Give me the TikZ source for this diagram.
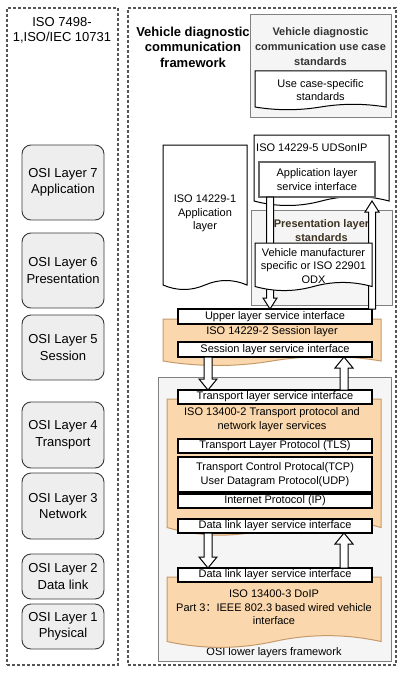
\documentclass[tikz,border=0pt]{standalone}
\usepackage{fontspec}
\setmainfont{Liberation Sans}
\newfontfamily\cjk{Noto Sans CJK SC}
\usetikzlibrary{calc,fit}
\definecolor{orfill}{HTML}{FAD7AC}
\definecolor{orline}{HTML}{C79A6A}
\definecolor{gfill}{HTML}{F5F5F5}
\definecolor{gline}{HTML}{808080}
\definecolor{osifill}{HTML}{EEEEEE}
\definecolor{osiline}{HTML}{36393D}
\definecolor{dashline}{HTML}{555555}
\definecolor{titlegray}{HTML}{333333}
\definecolor{prestext}{HTML}{3D3322}
\newcommand{\fsS}{\fontsize{11}{13.5}\selectfont}
\newcommand{\fsL}{\fontsize{13}{16.5}\selectfont}
% box node given by two corners (x1,y1) (x2,y2)
\newcommand{\bx}[7]{%
  \pgfmathsetmacro{\bxw}{#5-#3}\pgfmathsetmacro{\bxh}{#6-#4}%
  \pgfmathsetmacro{\bxx}{(#3+#5)/2}\pgfmathsetmacro{\bxy}{(#4+#6)/2}%
  \node[#1, minimum width=\bxw pt, minimum height=\bxh pt, inner sep=0pt, outer sep=0pt] (#2) at (\bxx,\bxy) {#7};}
% document shape with wavy bottom drawn on a named node
\newcommand{\docwave}[3]{%
  \draw[#3] let \p1=(#1.north west), \p2=(#1.south east) in
   (\x1,\y1) -- (\x2,\y1) -- (\x2,\y2+0.5*#2pt)
   .. controls (1/6*\x1+5/6*\x2, \y2+1.1*#2pt) and (1/3*\x1+2/3*\x2, \y2+1.1*#2pt) .. (0.5*\x1+0.5*\x2, \y2+0.5*#2pt)
   .. controls (2/3*\x1+1/3*\x2, \y2-0.1*#2pt) and (5/6*\x1+1/6*\x2, \y2-0.1*#2pt) .. (\x1, \y2+0.5*#2pt) -- cycle;}
\newcommand{\docnode}[7]{%
  \bx{}{#2}{#3}{#4}{#5}{#6}{}%
  \docwave{#2}{#7}{#1}}
% block arrows: #1 x, #2 from, #3 to, #4 shaft half width, #5 head half width
\newcommand{\blkdown}[5]{%
  \draw[blockarrow] let \p1=(#2), \p2=(#3) in
   (#1pt-#4pt,\y1) -- (#1pt+#4pt,\y1) -- (#1pt+#4pt,\y2+11pt) -- (#1pt+#5pt,\y2+11pt)
   -- (#1pt,\y2) -- (#1pt-#5pt,\y2+11pt) -- (#1pt-#4pt,\y2+11pt) -- cycle;}
\newcommand{\blkup}[5]{%
  \draw[blockarrow] let \p1=(#2), \p2=(#3) in
   (#1pt-#4pt,\y1) -- (#1pt-#4pt,\y2-11pt) -- (#1pt-#5pt,\y2-11pt) -- (#1pt,\y2)
   -- (#1pt+#5pt,\y2-11pt) -- (#1pt+#4pt,\y2-11pt) -- (#1pt+#4pt,\y1) -- cycle;}

\begin{document}
\begin{tikzpicture}[x=1pt,y=-1pt,
  dashedframe/.style={draw=dashline, dash pattern=on 3pt off 2pt, line width=1.1pt},
  osibox/.style={draw=osiline, fill=osifill, rounded corners=9pt, line width=0.9pt, font=\fsL, align=center},
  wbox/.style={draw=black, fill=white, line width=1.1pt, font=\fsS, align=center},
  sibox/.style={draw=black!60, fill=white, line width=1.8pt, font=\fsS, align=center},
  graybox/.style={draw=gline, fill=gfill, line width=1pt},
  odoc/.style={draw=orline, fill=orfill, line width=1pt},
  wdoc/.style={draw=black, fill=white, line width=1pt},
  blockarrow/.style={draw=black, fill=white, line width=1pt, line join=miter},
  txt/.style={font=\fsS, align=center, inner sep=0pt},
]
\useasboundingbox (0,0) rectangle (402,674);
% outer frames
\bx{dashedframe}{leftframe}{7}{8}{118}{665}{}
\bx{dashedframe}{rightframe}{128}{8}{396}{665}{}
\node[txt, font=\fontsize{13}{15.5}\selectfont] (isotitle) at (62,30.5) {ISO 7498-\\1,ISO/IEC 10731};
\node[txt, font=\fontsize{13}{15.5}\selectfont\bfseries] (vdtitle) at (193,47) {Vehicle diagnostic\\communication\\framework};
% OSI layers
\bx{osibox}{osi7}{22}{145}{104}{220}{OSI Layer 7\\Application}
\bx{osibox}{osi6}{22}{233}{104}{308}{OSI Layer 6\\Presentation}
\bx{osibox}{osi5}{22}{315}{104}{380}{OSI Layer 5\\Session}
\bx{osibox}{osi4}{22}{402}{104}{468}{OSI Layer 4\\Transport}
\bx{osibox}{osi3}{22}{473}{104}{539}{OSI Layer 3\\Network}
\bx{osibox}{osi2}{22}{554}{104}{599}{OSI Layer 2\\Data link}
\bx{osibox}{osi1}{22}{604}{104}{649}{OSI Layer 1\\Physical}
% use case standards
\bx{graybox}{ucbox}{250}{15}{391}{118}{}
\node[txt, font=\fontsize{11}{15}\selectfont\bfseries, text=titlegray] (uctitle) at (320.5,46.5) {Vehicle diagnostic\\communication use case\\standards};
\docnode{wdoc}{ucdoc}{255}{71}{386}{110}{6}
\node[txt] (uctext) at (320.5,90) {Use case-specific\\standards};
% application layer
\docnode{wdoc}{appdoc}{163}{145}{247}{290}{10}
\node[txt] (apptext) at (205,213.5) {ISO 14229-1\\Application\\layer};
% presentation
\bx{graybox}{presbox}{251}{210}{392}{305}{}
\node[txt, font=\fsS\bfseries, text=prestext] (prestitle) at (321.5,230.5) {Presentation layer\\standards};
% UDSonIP
\docnode{wdoc}{udsdoc}{254}{135}{389}{206}{10}
\node[txt, anchor=west] (udstext) at (256,148) {ISO 14229-5 UDSonIP};
\bx{sibox}{appsi}{259}{162}{375}{197}{Application layer\\service interface}
% session layer
\docnode{odoc}{sessdoc}{163}{319}{381}{366}{10}
\node[txt] (sesstext) at (272,332) {ISO 14229-2 Session layer};
\bx{wbox}{upper}{178}{309}{372}{324}{Upper layer service interface}
\bx{wbox}{sessSI}{178}{342}{372}{357}{Session layer service interface}
% arrows application <-> session
\coordinate (udstip) at (372,201);
\blkdown{270}{appsi.south}{upper.north}{3.5}{7}
\blkup{372}{upper.north}{udstip}{3.5}{7}
% vehicle manufacturer doc
\docnode{wdoc}{vmdoc}{255}{243}{372}{291}{9}
\node[txt] (vmtext) at (313.5,266) {Vehicle manufacturer\\specific or ISO 22901\\ODX};
% lower layers framework
\bx{graybox}{lowbox}{158}{377}{391}{661}{}
\node[txt] (lowlabel) at (274,653) {OSI lower layers framework};
% transport
\docnode{odoc}{trdoc}{167}{399}{381}{536}{17}
\node[txt] (trtext) at (272,419.5) {ISO 13400-2 Transport protocol and\\network layer services};
\bx{wbox}{transSI}{178}{390}{372}{404}{Transport layer service interface}
\bx{wbox}{tls}{178}{439}{372}{453}{Transport Layer Protocol (TLS)}
\bx{wbox}{tcp}{178}{457}{372}{492}{Transport Control Protocal(TCP)\\User Datagram Protocol(UDP)}
\bx{wbox}{ip}{178}{494}{372}{508}{Internet Protocol (IP)}
\bx{wbox}{dlone}{178}{519}{372}{533}{Data link layer service interface}
\blkdown{208}{sessSI.south}{transSI.north}{4}{9}
\blkup{344}{transSI.north}{sessSI.south}{4}{9}
% DoIP
\docnode{odoc}{doipdoc}{167}{577}{381}{648}{13}
\node[txt] (doiptext) at (274,607.5) {ISO 13400-3 DoIP\\Part 3{\cjk ：}IEEE 802.3 based wired vehicle\\interface};
\bx{wbox}{dltwo}{178}{568}{372}{582}{Data link layer service interface}
\blkdown{208}{dlone.south}{dltwo.north}{4}{9}
\blkup{344}{dltwo.north}{dlone.south}{4}{9}
\end{tikzpicture}
\end{document}
